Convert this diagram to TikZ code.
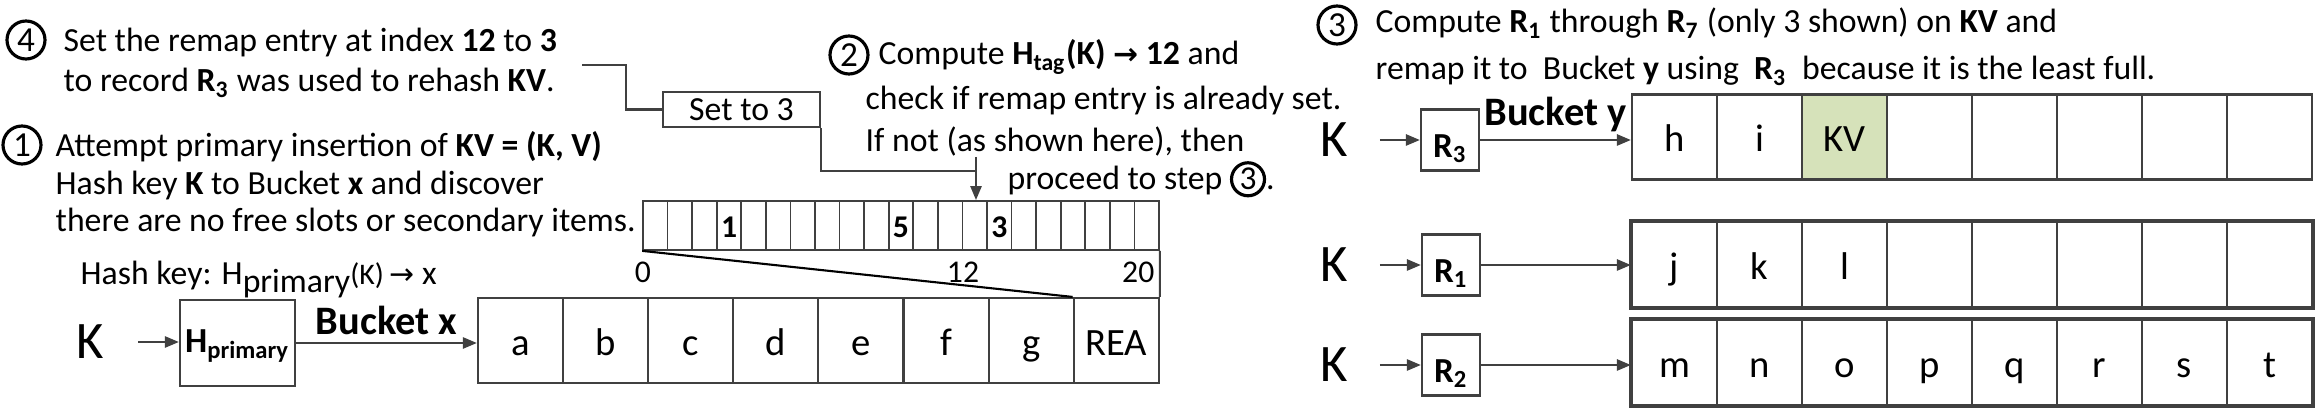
\documentclass[tikz,border=0pt]{standalone}
\usepackage{fontspec}
\setmainfont{Carlito}
\newfontfamily\arrowfont{DejaVu Sans}
\usetikzlibrary{arrows.meta,positioning}
\definecolor{linegray}{RGB}{64,64,64}
\definecolor{kvgreen}{RGB}{214,226,186}
\newcommand{\rarrow}{{\arrowfont\fontsize{8.5}{9}\selectfont →}}
\newcommand{\circnum}[1]{\tikz[baseline=(cn.base)]\node[anchor=center,draw,circle,line width=0.9pt,inner sep=0pt,minimum size=3.3mm,font=\fontsize{9.5}{9}\selectfont](cn){#1};}
\begin{document}
\begin{tikzpicture}[x=0.1mm,y=-0.1mm,
    txt/.style={anchor=base west,inner sep=0pt,font=\fontsize{9.6}{11}\selectfont},
    stepcirc/.style={draw,circle,line width=0.9pt,inner sep=0pt,minimum size=3.8mm,font=\fontsize{10}{10}\selectfont},
    box/.style={draw=linegray,line width=0.6pt,inner sep=0pt},
    cell/.style={box,minimum width=8.51mm,minimum height=8.5mm,text height=3mm,text depth=0pt,font=\fontsize{11}{11}\selectfont},
    ycell/.style={cell,minimum width=8.5mm},
    remapcell/.style={box,line width=0.5pt,minimum width=2.457mm,minimum height=4.9mm,text height=2.5mm,text depth=0pt,font=\bfseries\fontsize{9}{9}\selectfont},
    idx/.style={anchor=base,inner sep=0pt,font=\fontsize{9}{9}\selectfont},
    keynode/.style={inner sep=0pt,font=\fontsize{15}{15}\selectfont},
    hashbox/.style={box,minimum width=5.8mm,minimum height=6.1mm,text height=3.5mm,text depth=0pt,font=\bfseries\fontsize{10}{10}\selectfont},
    setbox/.style={box,minimum width=15.7mm,minimum height=3.5mm,font=\fontsize{9.6}{11}\selectfont},
    arr/.style={draw=linegray,line width=0.7pt,-{Triangle[length=1.4mm,width=1.1mm]}},
    conn/.style={draw=linegray,line width=0.6pt},
    blabel/.style={inner sep=0.7mm,font=\bfseries\fontsize{11.5}{11.5}\selectfont}]
  \useasboundingbox (0,0) rectangle (2321,413);

  % step 4
  \node[stepcirc] (s4) at (26,40) {4};
  \node[txt] (t4a) at (63,52) {Set the remap entry at index \textbf{12} to \textbf{3}};
  \node[txt] (t4b) at (63,92) {to record \textbf{R\textsubscript{3}} was used to rehash \textbf{KV}.};
  % step 1
  \node[stepcirc] (s1) at (22,145) {1};
  \node[txt] (t1a) at (55,157) {Attempt primary insertion of \textbf{KV = (K, V)}};
  \node[txt] (t1b) at (55,195) {Hash key \textbf{K} to Bucket \textbf{x} and discover};
  \node[txt] (t1c) at (55,232) {there are no free slots or secondary items.};
  \node[txt] (thash) at (80,285) {Hash key: H\raisebox{-0.8mm}{primary}{\fontsize{8.5}{9}\selectfont(K)}\,\rarrow\ x};
  % step 2
  \node[stepcirc] (s2) at (849,55) {2};
  \node[txt] (t2a) at (878,65) {Compute \textbf{H\textsubscript{tag}(K) \rarrow{} 12} and};
  \node[txt] (t2b) at (865,110) {check if remap entry is already set.};
  \node[txt] (t2c) at (865,152) {If not (as shown here), then};
  \node[txt] (t2d) at (1007,190) {proceed to step \circnum{3}.};
  % step 3
  \node[stepcirc] (s3) at (1337,25) {3};
  \node[txt] (t3a) at (1375,33) {Compute \textbf{R\textsubscript{1}} through \textbf{R\textsubscript{7}} (only 3 shown) on \textbf{KV} and};
  \node[txt] (t3b) at (1375,80) {remap it to\ \ Bucket \textbf{y} using\ \ \textbf{R\textsubscript{3}}\ \ because it is the least full.};

  % primary hash and bucket x
  \node[keynode] (k0) at (90,342) {K};
  \node[box,minimum width=11.5mm,minimum height=8.6mm,text height=2mm,text depth=0pt,font=\bfseries\fontsize{10}{10}\selectfont] (hprim) at (237.5,343) {H\textsubscript{primary}};
  \foreach \i/\v in {0/a,1/b,2/c,3/d,4/e,5/f,6/g,7/REA}
    \node[cell] (bx\i) at (520.55+85.1*\i,340.5) {\v};
  \draw[arr,shorten <=3.4mm] (k0.east) -- (hprim.west |- k0.east);
  \draw[arr] (hprim.east) -- node[blabel,above] (lbx) {Bucket x} (hprim.east -| bx0.west);

  % remap entries
  \foreach \i in {0,...,20}
    \node[remapcell] (m\i) at (655.3+24.57*\i,225.5) {};
  \foreach \i/\v in {3/1,10/5,14/3}
    \node[remapcell,draw=none] (mv\i) at (m\i) {\v};
  \node[idx] (i0) at (643,283) {0};
  \node[idx] (i12) at (963,283) {12};
  \node[idx,anchor=base east] (i20) at (1155,283) {20};
  \draw[line width=0.6pt] (m0.south west) -- (bx7.north west);
  \draw[conn] (m20.south east) -- (bx7.north east);

  % set to 3
  \node[setbox] (set3) at (741.5,109.5) {Set to 3};
  \coordinate (c4) at (582,65);
  \coordinate (c2) at (976,157);
  \coordinate (cj) at (976,171);
  \draw[conn] (c4) -- ++(44,0) |- (set3.west);
  \draw[conn] (set3.south east) |- (cj);
  \draw[arr] (c2) -- (c2 |- m13.north);

  % rehash rows
  \node[keynode] (k1) at (1334.5,140) {K};
  \node[hashbox] (r3) at (1450,140) {R\textsubscript{3}};
  \foreach \i/\v/\f in {0/h/white,1/i/white,2/KV/kvgreen,3/{}/white,4/{}/white,5/{}/white,6/{}/white,7/{}/white}
    \node[ycell,fill=\f] (rowy\i) at (1674.5+85*\i,137) {\v};
  \draw[arr,shorten <=3.1mm] (k1.east) -- (r3.west);
  \draw[arr] (r3.east) -- node[blabel,above] (lby) {Bucket y} (r3.east -| rowy0.west);

  \node[keynode] (k2) at (1334.5,265) {K};
  \node[hashbox] (r1) at (1451,265) {R\textsubscript{1}};
  \foreach \i/\v in {0/j,1/k,2/l,3/{},4/{},5/{},6/{},7/{}}
    \node[ycell] (rowa\i) at (1674.5+85*\i,264.5) {\v};
  \draw[line width=0.9pt,linegray] (rowa0.north west) rectangle (rowa7.south east);
  \draw[arr,shorten <=3.1mm] (k2.east) -- (r1.west);
  \draw[arr] (r1.east) -- (r1.east -| rowa0.west);

  \node[keynode] (k3) at (1334.5,365) {K};
  \node[hashbox] (r2) at (1451,365) {R\textsubscript{2}};
  \foreach \i/\v in {0/m,1/n,2/o,3/p,4/q,5/r,6/s,7/t}
    \node[ycell] (rowb\i) at (1674.5+85*\i,362.5) {\v};
  \draw[line width=0.9pt,linegray] (rowb0.north west) rectangle (rowb7.south east);
  \draw[arr,shorten <=3.1mm] (k3.east) -- (r2.west);
  \draw[arr] (r2.east) -- (r2.east -| rowb0.west);
\end{tikzpicture}
\end{document}
